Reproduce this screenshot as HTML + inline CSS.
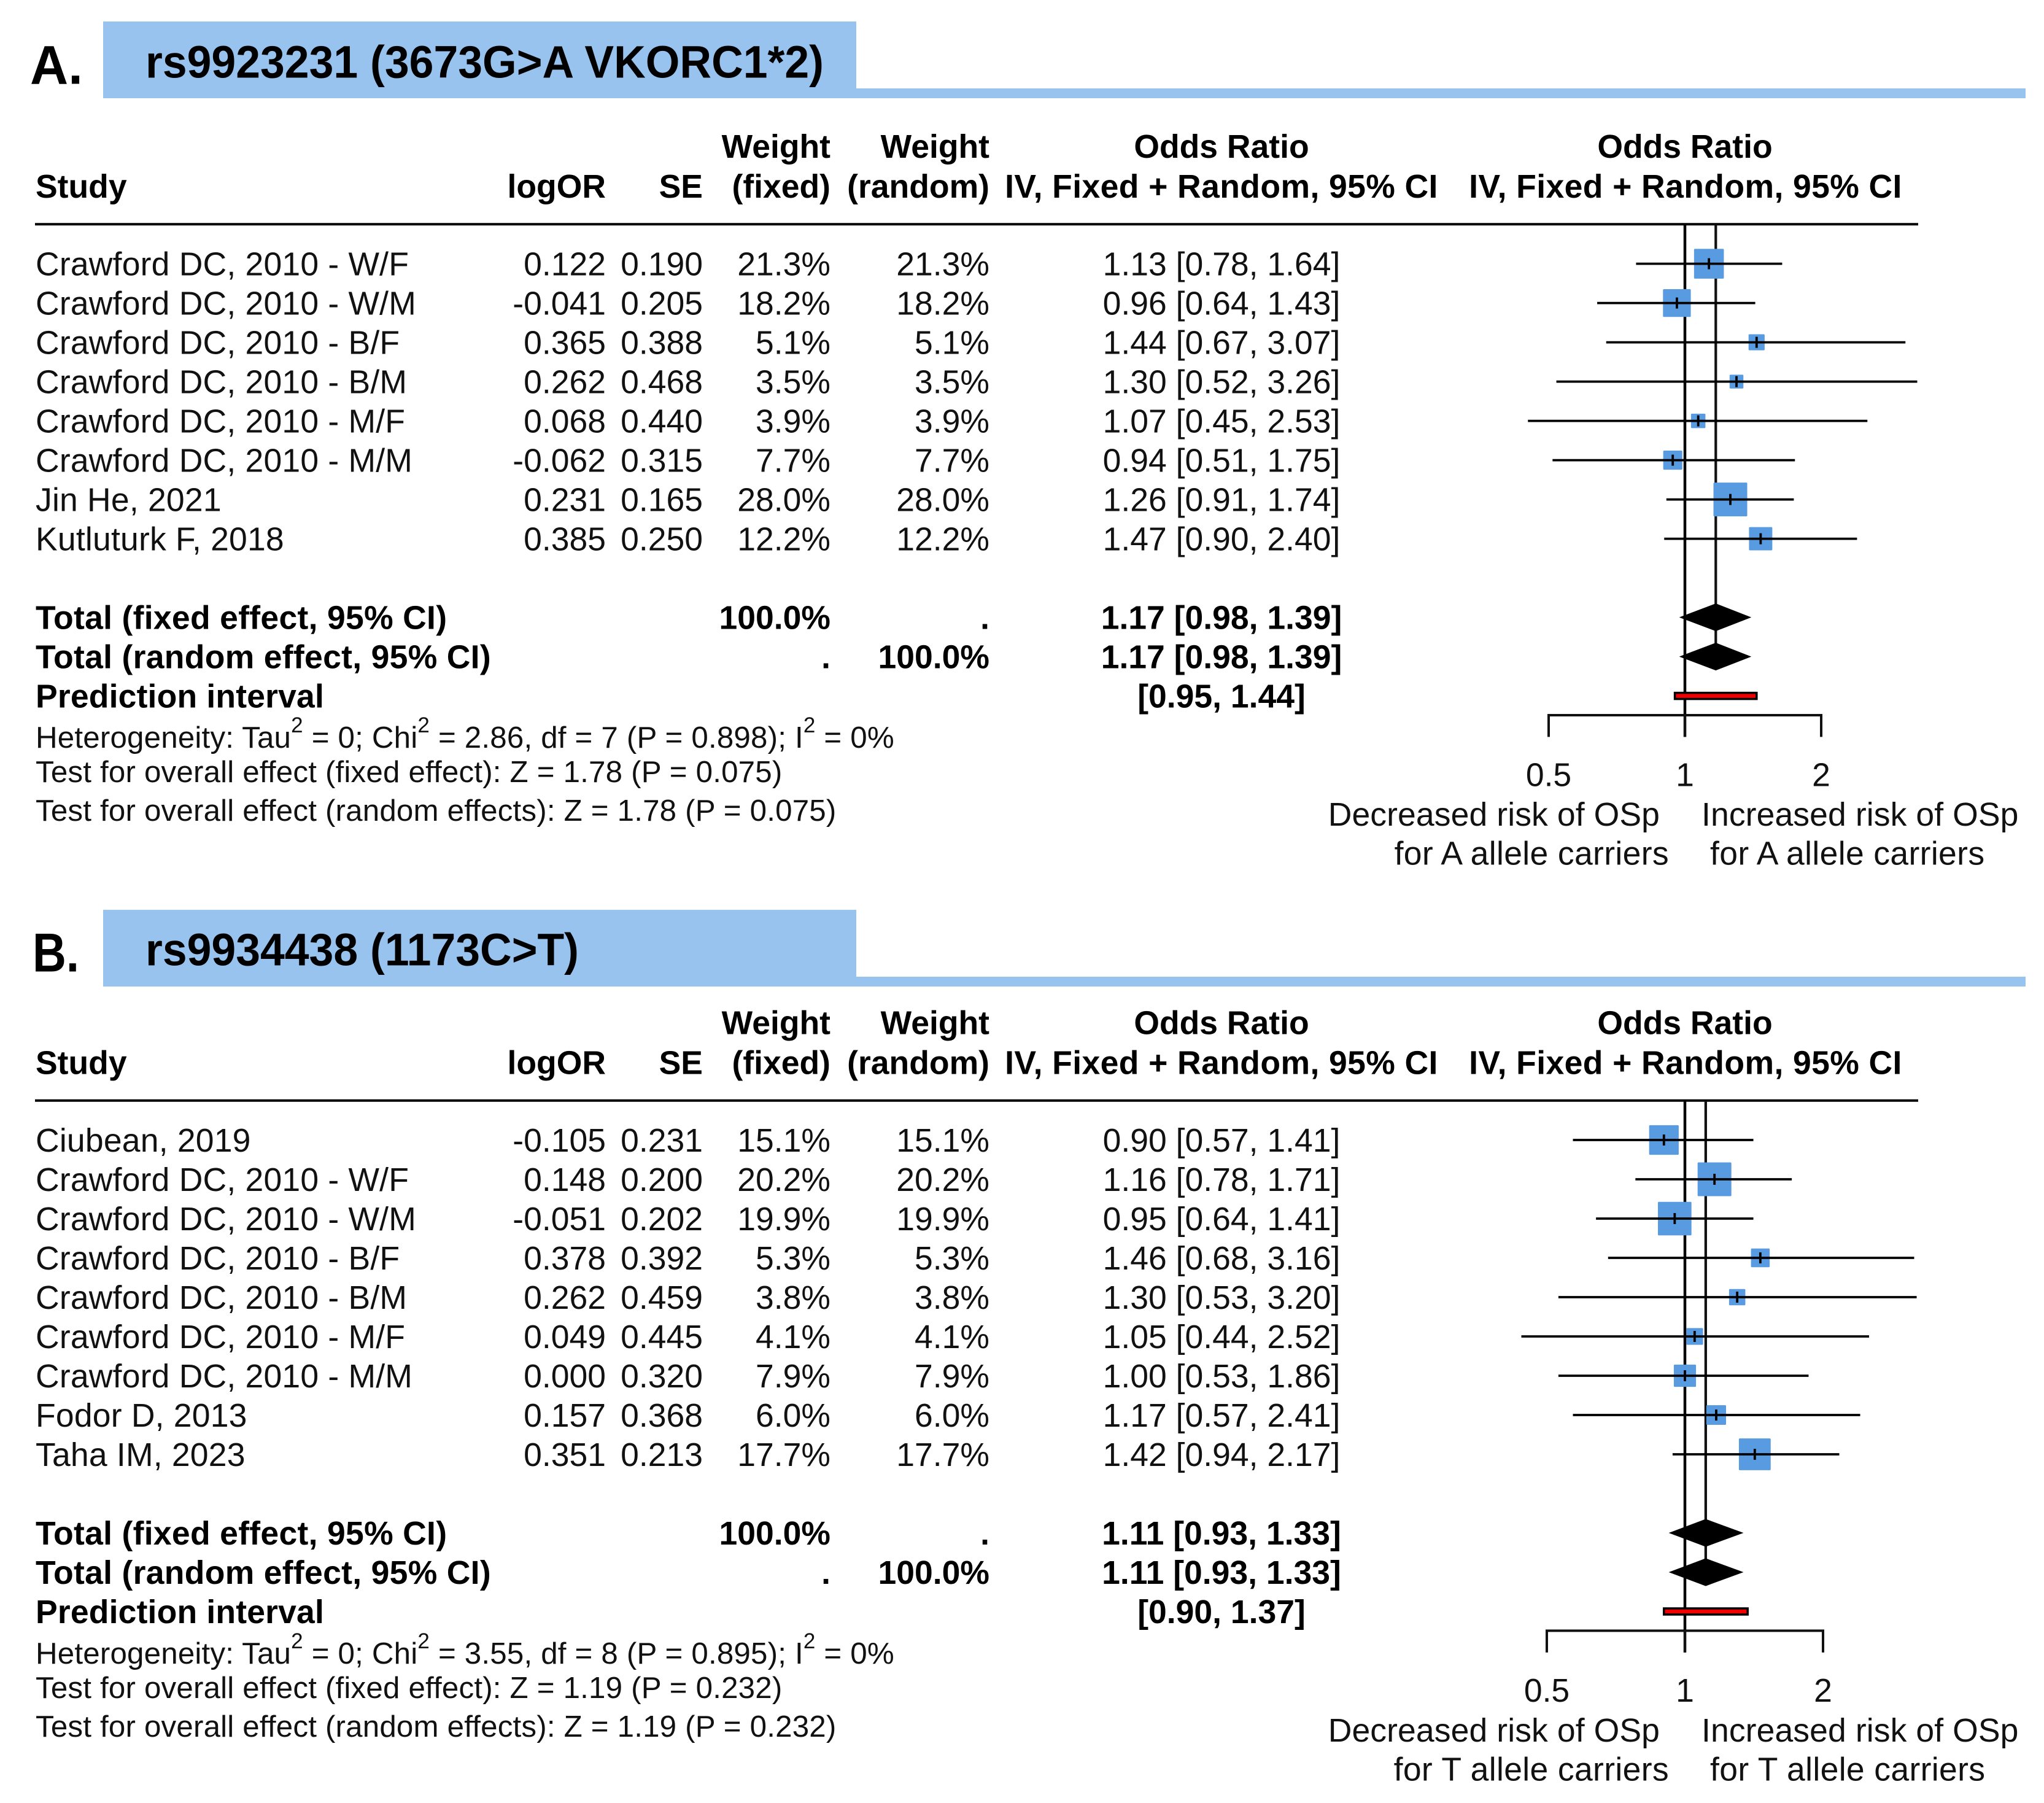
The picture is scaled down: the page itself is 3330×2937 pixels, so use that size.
<!DOCTYPE html>
<html lang="en">
<head>
<meta charset="utf-8">
<title>Forest plots: rs9923231 and rs9934438</title>
<style>
html,body{margin:0;padding:0;background:#fff;}
svg{display:block;}
text{font-family:"Liberation Sans",Arial,sans-serif;fill:#111;font-size:53.5px;}
.b{font-weight:700;fill:#000;}
.s{font-size:49.3px;letter-spacing:.18px;}
.m{text-anchor:middle;}
.e{text-anchor:end;}
.sup{font-size:35px;}
.t{font-size:74px;font-weight:700;fill:#000;}
.l{font-size:89px;font-weight:700;fill:#000;}
.iv{letter-spacing:.4px;}
.n{letter-spacing:.2px;}
.tl{letter-spacing:.3px;}
.pl{letter-spacing:.17px;}
.fa{letter-spacing:.35px;}
</style>
</head>
<body>
<svg id="chart" xmlns="http://www.w3.org/2000/svg" width="3330" height="2937" viewBox="0 0 3330 2937">
  <rect x="0" y="0" width="3330" height="2937" fill="#fff"/>

  <!-- Panel A -->
  <g id="panelA">
    <path d="M168 35H1395V144H3300V160H168Z" fill="#98C3EE"/>
    <text class="l" x="49" y="136.7" textLength="86" lengthAdjust="spacingAndGlyphs">A.</text>
    <text class="t" x="237" y="126.7" textLength="1105" lengthAdjust="spacingAndGlyphs">rs9923231 (3673G&gt;A VKORC1*2)</text>
    <g>
      <text class="b e" x="1353" y="257">Weight</text>
      <text class="b e" x="1612" y="257">Weight</text>
      <text class="b m" x="1990" y="257">Odds Ratio</text>
      <text class="b m" x="2745" y="257">Odds Ratio</text>
      <text class="b" x="58" y="322">Study</text>
      <text class="b e" x="987" y="322">logOR</text>
      <text class="b e" x="1145" y="322">SE</text>
      <text class="b e" x="1353" y="322">(fixed)</text>
      <text class="b e" x="1612" y="322">(random)</text>
      <text class="b m iv" x="1990" y="322">IV, Fixed + Random, 95% CI</text>
      <text class="b m iv" x="2746" y="322">IV, Fixed + Random, 95% CI</text>
    </g>
    <line x1="57" x2="3125" y1="365.3" y2="365.3" stroke="#000" stroke-width="4"/>
    <g>
      <text class="s" x="58" y="1218">Heterogeneity: Tau<tspan class="sup" dy="-25">2</tspan><tspan dy="25"> = 0; Chi</tspan><tspan class="sup" dy="-25">2</tspan><tspan dy="25"> = 2.86, df = 7 (P = 0.898); I</tspan><tspan class="sup" dy="-25">2</tspan><tspan dy="25"> = 0%</tspan></text>
      <text class="s" x="58" y="1274">Test for overall effect (fixed effect): Z = 1.78 (P = 0.075)</text>
      <text class="s" x="58" y="1337">Test for overall effect (random effects): Z = 1.78 (P = 0.075)</text>
    </g>
    <g>
      <text class="e" x="2704" y="1345" style="letter-spacing:.1px">Decreased risk of OSp</text>
      <text class="e fa" x="2719" y="1408.7">for A allele carriers</text>
      <text x="2772" y="1345" style="letter-spacing:.1px">Increased risk of OSp</text>
      <text class="fa" x="2786" y="1408.7">for A allele carriers</text>
    </g>
  </g>

  <!-- Panel B -->
  <g id="panelB">
    <path d="M168 1482H1395V1591H3300V1607H168Z" fill="#98C3EE"/>
    <text class="l" x="53" y="1582.7" textLength="76" lengthAdjust="spacingAndGlyphs">B.</text>
    <text class="t" x="237" y="1572.7" textLength="706" lengthAdjust="spacingAndGlyphs">rs9934438 (1173C&gt;T)</text>
    <g>
      <text class="b e" x="1353" y="1684.5">Weight</text>
      <text class="b e" x="1612" y="1684.5">Weight</text>
      <text class="b m" x="1990" y="1684.5">Odds Ratio</text>
      <text class="b m" x="2745" y="1684.5">Odds Ratio</text>
      <text class="b" x="58" y="1749.5">Study</text>
      <text class="b e" x="987" y="1749.5">logOR</text>
      <text class="b e" x="1145" y="1749.5">SE</text>
      <text class="b e" x="1353" y="1749.5">(fixed)</text>
      <text class="b e" x="1612" y="1749.5">(random)</text>
      <text class="b m iv" x="1990" y="1749.5">IV, Fixed + Random, 95% CI</text>
      <text class="b m iv" x="2746" y="1749.5">IV, Fixed + Random, 95% CI</text>
    </g>
    <line x1="57" x2="3125" y1="1792.8" y2="1792.8" stroke="#000" stroke-width="4"/>
    <g>
      <text class="s" x="58" y="2710">Heterogeneity: Tau<tspan class="sup" dy="-25">2</tspan><tspan dy="25"> = 0; Chi</tspan><tspan class="sup" dy="-25">2</tspan><tspan dy="25"> = 3.55, df = 8 (P = 0.895); I</tspan><tspan class="sup" dy="-25">2</tspan><tspan dy="25"> = 0%</tspan></text>
      <text class="s" x="58" y="2766">Test for overall effect (fixed effect): Z = 1.19 (P = 0.232)</text>
      <text class="s" x="58" y="2829">Test for overall effect (random effects): Z = 1.19 (P = 0.232)</text>
    </g>
    <g>
      <text class="e" x="2704" y="2837" style="letter-spacing:.1px">Decreased risk of OSp</text>
      <text class="e fa" x="2719" y="2900.7">for T allele carriers</text>
      <text x="2772" y="2837" style="letter-spacing:.1px">Increased risk of OSp</text>
      <text class="fa" x="2786" y="2900.7">for T allele carriers</text>
    </g>
  </g>
</svg>

<script>
/* Panel A data */
const studiesA = ["Crawford DC, 2010 - W/F","Crawford DC, 2010 - W/M","Crawford DC, 2010 - B/F","Crawford DC, 2010 - B/M","Crawford DC, 2010 - M/F","Crawford DC, 2010 - M/M","Jin He, 2021","Kutluturk F, 2018"];
const logOrA = ["0.122","-0.041","0.365","0.262","0.068","-0.062","0.231","0.385"];
const seA = ["0.190","0.205","0.388","0.468","0.440","0.315","0.165","0.250"];
const weightFixedA = [21.3,18.2,5.1,3.5,3.9,7.7,28.0,12.2];
const weightRandomA = [21.3,18.2,5.1,3.5,3.9,7.7,28.0,12.2];
const oddsRatioA = [1.13,0.96,1.44,1.30,1.07,0.94,1.26,1.47];
const ciLowerA = [0.78,0.64,0.67,0.52,0.45,0.51,0.91,0.90];
const ciUpperA = [1.64,1.43,3.07,3.26,2.53,1.75,1.74,2.40];
const pooledFixedA = [1.17,0.98,1.39];
const pooledRandomA = [1.17,0.98,1.39];
const predictionA = [0.95,1.44];

/* Panel B data */
const studiesB = ["Ciubean, 2019","Crawford DC, 2010 - W/F","Crawford DC, 2010 - W/M","Crawford DC, 2010 - B/F","Crawford DC, 2010 - B/M","Crawford DC, 2010 - M/F","Crawford DC, 2010 - M/M","Fodor D, 2013","Taha IM, 2023"];
const logOrB = ["-0.105","0.148","-0.051","0.378","0.262","0.049","0.000","0.157","0.351"];
const seB = ["0.231","0.200","0.202","0.392","0.459","0.445","0.320","0.368","0.213"];
const weightFixedB = [15.1,20.2,19.9,5.3,3.8,4.1,7.9,6.0,17.7];
const weightRandomB = [15.1,20.2,19.9,5.3,3.8,4.1,7.9,6.0,17.7];
const oddsRatioB = [0.90,1.16,0.95,1.46,1.30,1.05,1.00,1.17,1.42];
const ciLowerB = [0.57,0.78,0.64,0.68,0.53,0.44,0.53,0.57,0.94];
const ciUpperB = [1.41,1.71,1.41,3.16,3.20,2.52,1.86,2.41,2.17];
const pooledFixedB = [1.11,0.93,1.33];
const pooledRandomB = [1.11,0.93,1.33];
const predictionB = [0.90,1.37];

/* Shared axis tick labels */
const axisTicks = [0.5,1,2];

const SVG_NS = "http://www.w3.org/2000/svg";

function svgEl(parent, tag) {
  const el = document.createElementNS(SVG_NS, tag);
  parent.appendChild(el);
  return el;
}

function put(el, props) {
  Object.keys(props).forEach(function (k) { el.setAttribute(k, props[k]); });
  return el;
}

function fmt2(v) { return v.toFixed(2); }
function ciText(lo, hi) { return "[" + fmt2(lo) + ", " + fmt2(hi) + "]"; }

function drawPanel(panelId, d) {
  const root = document.getElementById(panelId);
  const xScale = function (v) { return d.xOne + d.xUnit * Math.log2(v); };
  const yRow = function (i) { return d.yFirst + 64 * i; };
  const textY = function (i) { return yRow(i) + 19; };
  const maxWeight = Math.max.apply(null, d.weightFixed);
  const sizeFor = function (w) { return 4.7 + 50.3 * Math.sqrt(w / maxWeight); };
  const n = d.studies.length;
  const yFixed = yRow(n + 1);
  const yRandom = yRow(n + 2);
  const yPred = yRow(n + 3);
  const yAxis = yPred + 31.4;
  const yTickEnd = yAxis + 35.4;

  /* table rows */
  const table = svgEl(root, "g");
  
  

  d.studies.forEach(function (name, i) {
    const row = svgEl(table, "g");
    
    
    const y = textY(i);

    const tName = svgEl(row, "text");
    
    
    put(tName, {x: 58, y: y, "class": "n"});
    tName.textContent = name;

    const tLog = svgEl(row, "text");
    
    
    put(tLog, {x: 987, y: y, "class": "e"});
    tLog.textContent = d.logOr[i];

    const tSe = svgEl(row, "text");
    
    
    put(tSe, {x: 1145, y: y, "class": "e"});
    tSe.textContent = d.se[i];

    const tWf = svgEl(row, "text");
    
    
    put(tWf, {x: 1353, y: y, "class": "e"});
    tWf.textContent = d.weightFixed[i].toFixed(1) + "%";

    const tWr = svgEl(row, "text");
    
    
    put(tWr, {x: 1612, y: y, "class": "e"});
    tWr.textContent = d.weightRandom[i].toFixed(1) + "%";

    const tOr = svgEl(row, "text");
    
    
    put(tOr, {x: 1990, y: y, "class": "m"});
    tOr.textContent = fmt2(d.or[i]) + " " + ciText(d.lower[i], d.upper[i]);
  });

  /* summary rows */
  const summary = [
    {label: "Total (fixed effect, 95% CI)", wf: "100.0%", wr: ".", vals: d.pooledFixed, y: textY(n + 1)},
    {label: "Total (random effect, 95% CI)", wf: ".", wr: "100.0%", vals: d.pooledRandom, y: textY(n + 2)}
  ];
  summary.forEach(function (s) {
    const tL = svgEl(table, "text");
    
    
    put(tL, {x: 58, y: s.y, "class": "b tl"});
    tL.textContent = s.label;

    const tF = svgEl(table, "text");
    
    
    put(tF, {x: 1353, y: s.y, "class": "b e"});
    tF.textContent = s.wf;

    const tR = svgEl(table, "text");
    
    
    put(tR, {x: 1612, y: s.y, "class": "b e"});
    tR.textContent = s.wr;

    const tO = svgEl(table, "text");
    
    
    put(tO, {x: 1990, y: s.y, "class": "b m"});
    tO.textContent = fmt2(s.vals[0]) + " " + ciText(s.vals[1], s.vals[2]);
  });

  const tPl = svgEl(table, "text");
  
  
  put(tPl, {x: 58, y: textY(n + 3), "class": "b pl"});
  tPl.textContent = "Prediction interval";

  const tPv = svgEl(table, "text");
  
  
  put(tPv, {x: 1990, y: textY(n + 3), "class": "b m"});
  tPv.textContent = ciText(d.prediction[0], d.prediction[1]);

  /* plot */
  const plot = svgEl(root, "g");
  
  

  const refLine = svgEl(plot, "line");
  
  
  put(refLine, {x1: xScale(1), x2: xScale(1), y1: d.yRule, y2: yTickEnd, stroke: "#000", "stroke-width": 4.5});

  const meanLine = svgEl(plot, "line");
  
  
  put(meanLine, {x1: xScale(d.pooledFixed[0]), x2: xScale(d.pooledFixed[0]), y1: d.yRule, y2: yRandom, stroke: "#111", "stroke-width": 4.2});

  d.or.forEach(function (v, i) {
    const y = yRow(i);
    const x = xScale(v);
    const size = sizeFor(d.weightFixed[i]);

    const sq = svgEl(plot, "rect");
    
    
    put(sq, {x: x - size / 2, y: y - size / 2, width: size, height: size, rx: 1.5, fill: "#589BE0"});

    const ci = svgEl(plot, "line");
    
    
    put(ci, {x1: xScale(d.lower[i]), x2: xScale(d.upper[i]), y1: y, y2: y, stroke: "#000", "stroke-width": 3.8});

    const mk = svgEl(plot, "line");
    
    
    put(mk, {x1: x, x2: x, y1: y - 9, y2: y + 9, stroke: "#000", "stroke-width": 3.8});
  });

  const diamondPoints = function (vals, y) {
    return xScale(vals[1]) + "," + y + " " + xScale(vals[0]) + "," + (y - 21.5) + " " + xScale(vals[2]) + "," + y + " " + xScale(vals[0]) + "," + (y + 21.5);
  };

  const dFixed = svgEl(plot, "polygon");
  
  
  put(dFixed, {points: diamondPoints(d.pooledFixed, yFixed), fill: "#000", stroke: "#000", "stroke-width": 2});

  const dRandom = svgEl(plot, "polygon");
  
  
  put(dRandom, {points: diamondPoints(d.pooledRandom, yRandom), fill: "#000", stroke: "#000", "stroke-width": 2});

  const pred = svgEl(plot, "rect");
  
  
  put(pred, {x: xScale(d.prediction[0]), y: yPred - 5, width: xScale(d.prediction[1]) - xScale(d.prediction[0]), height: 10, fill: "#F00000", stroke: "#000", "stroke-width": 3.5});

  /* axis */
  const axisLine = svgEl(plot, "line");
  
  
  put(axisLine, {x1: xScale(axisTicks[0]) - 2, x2: xScale(axisTicks[axisTicks.length - 1]) + 2, y1: yAxis, y2: yAxis, stroke: "#111", "stroke-width": 4});

  axisTicks.forEach(function (t) {
    const tick = svgEl(plot, "line");
    
    
    put(tick, {x1: xScale(t), x2: xScale(t), y1: yAxis, y2: yTickEnd, stroke: "#111", "stroke-width": 4});

    const lab = svgEl(plot, "text");
    
    
    put(lab, {x: xScale(t), y: yAxis + 115.6, "class": "m"});
    lab.textContent = String(t);
  });
}

drawPanel("panelA", {
  studies: studiesA, logOr: logOrA, se: seA, weightFixed: weightFixedA, weightRandom: weightRandomA,
  or: oddsRatioA, lower: ciLowerA, upper: ciUpperA, pooledFixed: pooledFixedA, pooledRandom: pooledRandomA, prediction: predictionA,
  xOne: 2745, xUnit: 222, yFirst: 429.6, yRule: 365.3
});
drawPanel("panelB", {
  studies: studiesB, logOr: logOrB, se: seB, weightFixed: weightFixedB, weightRandom: weightRandomB,
  or: oddsRatioB, lower: ciLowerB, upper: ciUpperB, pooledFixed: pooledFixedB, pooledRandom: pooledRandomB, prediction: predictionB,
  xOne: 2745, xUnit: 225, yFirst: 1857, yRule: 1792.8
});
</script>
</body>
</html>
